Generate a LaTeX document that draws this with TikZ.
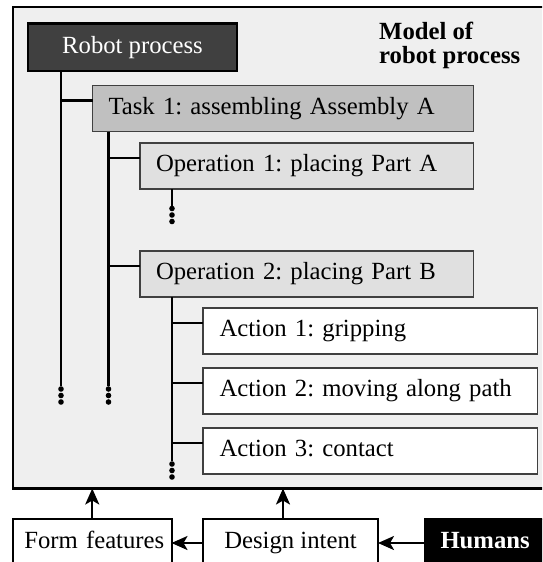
\documentclass[tikz,border=0pt]{standalone}
\usepackage{fontspec}
\setmainfont{Liberation Serif}
\usetikzlibrary{arrows.meta}
\definecolor{framebg}{HTML}{EFEFEF}
\definecolor{robotfill}{HTML}{404040}
\definecolor{taskfill}{HTML}{C0C0C0}
\definecolor{opfill}{HTML}{E0E0E0}
\definecolor{thinborder}{HTML}{404040}
\frenchspacing
\begin{document}
\begin{tikzpicture}[x=1pt,y=-1pt,
  txt/.style={font=\fontsize{24.7}{26}\selectfont, text height=17pt, text depth=5.5pt},
  level/.style={txt, draw=thinborder, line width=1.2pt, anchor=north west, outer sep=0pt,
    minimum height=46pt, inner ysep=0pt, align=left},
  taskbox/.style={level, fill=taskfill, inner xsep=16pt, text width=349pt},
  opbox/.style={level, fill=opfill, inner xsep=16pt, text width=301.5pt},
  actbox/.style={level, fill=white, inner xsep=16.5pt, text width=301.5pt},
  botbox/.style={txt, draw=black, line width=2pt, anchor=north west, outer sep=0pt,
    minimum height=48pt, inner ysep=0pt},
  conn/.style={line width=2.2pt, black},
  arr/.style={line width=2.4pt, black, -{Stealth[length=16pt,width=14pt,inset=4pt]}},
  dot/.style={fill=black}
]
\useasboundingbox (0,0) rectangle (542,562);
\clip (0,0) rectangle (542,562);

% outer frame (model)
\node[draw, line width=2.5pt, fill=framebg, anchor=north west, outer sep=0pt, inner sep=0pt,
  minimum width=580pt, minimum height=481.5pt] (model) at (13,7) {};

% title
\node[anchor=north west, inner sep=0pt, align=left,
  font=\bfseries\fontsize{24.7}{24}\selectfont] (title) at (379,22) {Model of\\robot process};

% robot process
\node[txt, draw=black, line width=2.2pt, fill=robotfill, text=white, anchor=north west,
  outer sep=0pt, minimum width=209pt, minimum height=47.5pt, inner sep=0pt] (robot) at (28,23.5) {Robot process};

% hierarchy boxes
\node[taskbox] (task) at (92.5,85.5) {Task 1: assembling Assembly A};
\node[opbox] (op1) at (140,143) {Operation 1: placing Part A};
\node[opbox] (op2) at (140,251) {Operation 2: placing Part B};
\node[actbox] (act1) at (203,308) {Action 1: gripping};
\node[actbox] (act2) at (203,368) {Action 2: moving along path};
\node[actbox] (act3) at (203,428) {Action 3: contact};

% spine A (robot process)
\coordinate (a0) at ([xshift=33pt]robot.south west);
\coordinate (a1) at (61,386);
\draw[conn] (a0) -- (a1);
\coordinate (tb) at ([yshift=8pt]task.west);
\draw[conn] (a0 |- tb) -- (tb);
\foreach \yy in {389,395.5,402} \fill[dot] (61,\yy) circle (2.8pt);

% spine B (task)
\coordinate (b0) at ([xshift=16pt]task.south west);
\coordinate (b1) at (108.5,386);
\draw[conn] (b0) -- (b1);
\coordinate (o1b) at ([yshift=8pt]op1.west);
\coordinate (o2b) at ([yshift=8pt]op2.west);
\draw[conn] (b0 |- o1b) -- (o1b);
\draw[conn] (b0 |- o2b) -- (o2b);
\foreach \yy in {389,395.5,402} \fill[dot] (108.5,\yy) circle (2.8pt);

% spine C (operation 1)
\coordinate (c0) at ([xshift=32pt]op1.south west);
\coordinate (c1) at (172,206);
\draw[conn] (c0) -- (c1);
\foreach \yy in {208.5,215,221.5} \fill[dot] (172,\yy) circle (2.8pt);

% spine D (operation 2)
\coordinate (d0) at ([xshift=32pt]op2.south west);
\coordinate (d1) at (172,461);
\draw[conn] (d0) -- (d1);
\foreach \n in {act1,act2,act3} {
  \coordinate (nb) at ([yshift=8pt]\n.west);
  \draw[conn] (d0 |- nb) -- (nb);
}
\foreach \yy in {464,470.5,477} \fill[dot] (172,\yy) circle (2.8pt);

% bottom boxes
\node[botbox, fill=white, minimum width=158.5pt, inner xsep=7.25pt, text width=144pt, align=right] (ff) at (13,519) {Form features};
\node[botbox, fill=white, minimum width=175pt] (di) at (203,519) {Design intent};
\node[botbox, fill=black, text=white, inner xsep=15.5pt, text width=120pt, align=left,
  font=\bfseries\fontsize{24.7}{26}\selectfont] (hum) at (425,519) {Humans};

% arrows
\draw[arr] (ff.north) -- (ff.north |- model.south);
\coordinate (dit) at ([xshift=-7.5pt]di.north);
\draw[arr] (dit) -- (dit |- model.south);
\draw[arr] (di.west) -- (ff.east);
\draw[arr] (hum.west) -- (di.east);
\end{tikzpicture}
\end{document}
